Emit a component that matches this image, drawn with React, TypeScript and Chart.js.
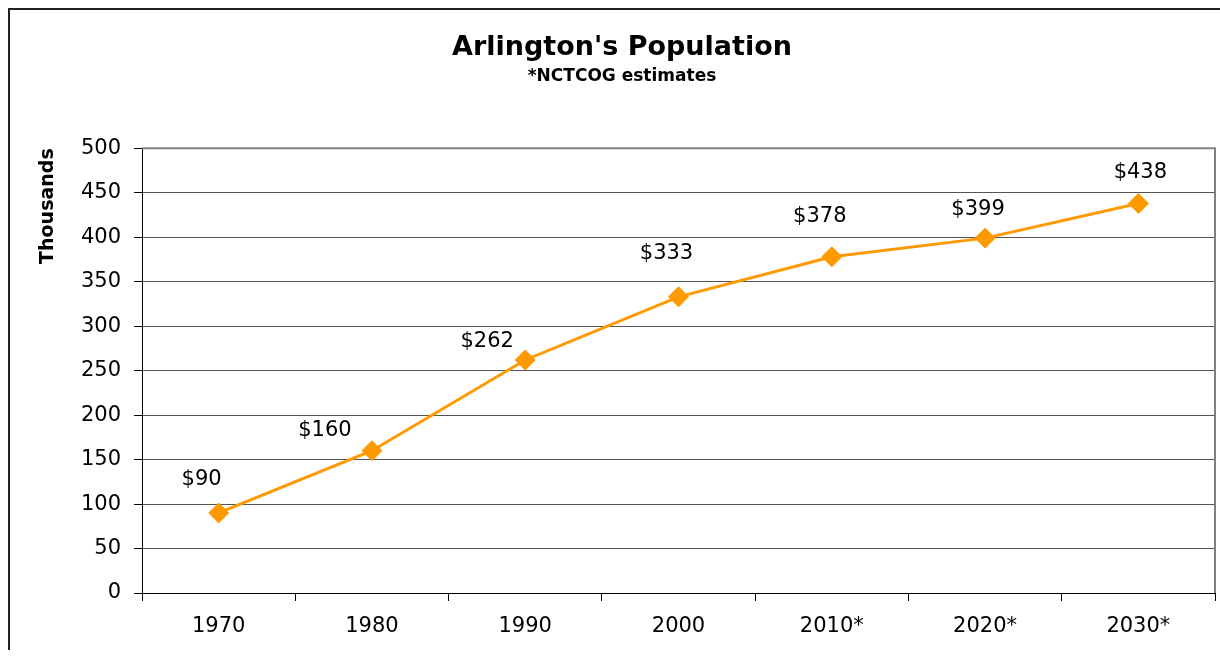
import React, { useEffect, useRef } from "react";
import { Chart, registerables } from "chart.js";

Chart.register(...registerables);

const years = ["1970", "1980", "1990", "2000", "2010*", "2020*", "2030*"];
const population = [90, 160, 262, 333, 378, 399, 438];
const yMin = 0;
const yMax = 500;
const yStep = 50;
// label offsets (dx, dy) from each marker, as placed in the reference
const labelNudge = [
  [-17, -33],
  [-47, -20],
  [-38, -18],
  [-12, -43],
  [-12, -40],
  [-7, -29],
  [2, -31],
];

const FONT = "'DejaVu Sans', sans-serif";

const valueLabels = {
  id: "valueLabels",
  afterDatasetsDraw(chart: any) {
    const { ctx } = chart;
    const meta = chart.getDatasetMeta(0);
    ctx.save();
    ctx.font = `21px ${FONT}`;
    ctx.fillStyle = "#000";
    ctx.textAlign = "center";
    ctx.textBaseline = "middle";
    meta.data.forEach((pt: any, i: number) => {
      const [dx, dy] = labelNudge[i];
      ctx.fillText("$" + population[i], pt.x + dx, pt.y + dy);
    });
    ctx.restore();
  },
};

const plotFrame = {
  id: "plotFrame",
  beforeDatasetsDraw(chart: any) {
    const { ctx, chartArea } = chart;
    ctx.save();
    ctx.strokeStyle = "#808080";
    ctx.lineWidth = 2;
    ctx.beginPath();
    ctx.moveTo(chartArea.left, chartArea.top);
    ctx.lineTo(chartArea.right, chartArea.top);
    ctx.lineTo(chartArea.right, chartArea.bottom);
    ctx.stroke();
    ctx.restore();
  },
};

export default function App() {
  const ref = useRef<HTMLCanvasElement | null>(null);

  useEffect(() => {
    if (!ref.current) return;
    const chart = new Chart(ref.current, {
      type: "line",
      data: {
        labels: years,
        datasets: [
          {
            data: population,
            borderColor: "#FF9900",
            backgroundColor: "#FF9900",
            borderWidth: 3,
            pointStyle: "rectRot",
            pointRadius: 10,
            pointBorderWidth: 1,
            pointBackgroundColor: "#FF9900",
            pointBorderColor: "#FF9900",
            tension: 0,
            clip: false,
          } as any,
        ],
      },
      options: {
        animation: false,
        responsive: false,
        devicePixelRatio: 1,
        layout: {
          autoPadding: false,
          padding: { top: 0, left: 19, right: 5, bottom: 0 },
        },
        plugins: {
          legend: { display: false },
          tooltip: { enabled: false },
          title: {
            display: true,
            text: "Arlington's Population",
            color: "#000",
            font: { family: FONT, size: 27, weight: "bold" },
            padding: { top: 22, bottom: 2 },
          },
          subtitle: {
            display: true,
            text: "*NCTCOG estimates",
            color: "#000",
            font: { family: FONT, size: 17, weight: "bold" },
            padding: { top: 0, bottom: 61.5 },
          },
        },
        scales: {
          x: {
            type: "category",
            offset: true,
            grid: {
              offset: true,
              drawOnChartArea: false,
              drawTicks: true,
              tickLength: 8,
              color: "#000",
            },
            border: { color: "#000", width: 1 },
            ticks: {
              color: "#000",
              font: { family: FONT, size: 21 },
              padding: 13,
              maxRotation: 0,
              autoSkip: false,
            },
            afterFit(s: any) {
              s.height = 57;
              s.paddingLeft = 0;
              s.paddingRight = 0;
            },
          },
          y: {
            min: yMin,
            max: yMax,
            ticks: {
              stepSize: yStep,
              color: "#000",
              font: { family: FONT, size: 21 },
              padding: 13,
            },
            grid: { color: "#555", tickColor: "#000", tickLength: 8 },
            border: { color: "#000", width: 1 },
            title: {
              display: true,
              text: "Thousands",
              align: "end",
              color: "#000",
              font: { family: FONT, size: 19, weight: "bold" },
              padding: { top: 8, bottom: 0 },
            },
            afterFit(s: any) {
              s.width = 113;
            },
          },
        },
      } as any,
      plugins: [plotFrame, valueLabels],
    });
    return () => chart.destroy();
  }, []);

  return (
    <div
      style={{
        position: "fixed",
        left: 8,
        top: 8,
        width: 1210,
        height: 640,
        borderLeft: "2px solid #222",
        borderTop: "2px solid #222",
        background: "#fff",
        overflow: "hidden",
      }}
    >
      <canvas ref={ref} width={1210} height={640} style={{ display: "block" }} />
    </div>
  );
}
